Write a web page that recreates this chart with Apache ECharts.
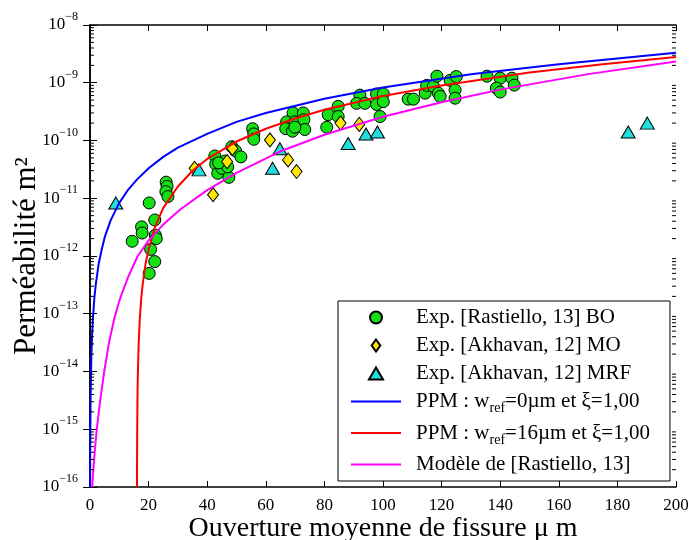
<!DOCTYPE html>
<html><head><meta charset="utf-8">
<script src="https://cdn.jsdelivr.net/npm/echarts@6/dist/echarts.min.js"></script>
<style>html,body{margin:0;padding:0;background:#fff}#c{width:690px;height:540px}</style>
</head><body><div id="c"></div>
<script>
// ---- data ----
const xTicks = [0, 20, 40, 60, 80, 100, 120, 140, 160, 180, 200];
const yDecades = [-16, -15, -14, -13, -12, -11, -10, -9, -8];

const boX = [14.4,17.6,17.8,20.2,22.1,22.3,22.6,20.7,22.1,20.2,26.0,26.3,25.9,26.6,
  42.6,42.9,43.6,45.0,46.0,47.4,48.4,49.7,51.5,47.0,43.9,
  55.5,55.9,55.9,
  69.3,72.8,67.1,69.9,73.0,66.8,69.1,73.3,69.9,
  81.3,84.7,84.7,80.8,
  92.1,91.0,93.8,97.8,100.1,97.8,100.1,99.0,
  108.6,110.4,114.4,114.9,117.2,118.4,118.9,119.5,
  122.9,125.0,124.6,124.6,
  135.5,140.0,144.0,138.7,140.0,144.8];
const boY = [1.8e-12,3.2e-12,2.5e-12,8.3e-12,4.2e-12,2.3e-12,2.0e-12,1.3e-12,8e-13,5e-13,1.9e-11,1.6e-11,1.3e-11,1.07e-11,
  5.4e-11,3.9e-11,2.7e-11,3.3e-11,4.4e-11,2.3e-11,7.8e-11,6.6e-11,5.2e-11,3.5e-11,4.1e-11,
  1.6e-10,1.3e-10,1.05e-10,
  3.0e-10,3.0e-10,2.1e-10,2.1e-10,2.3e-10,1.6e-10,1.45e-10,1.55e-10,1.7e-10,
  2.8e-10,3.9e-10,2.6e-10,1.7e-10,
  6.1e-10,4.4e-10,4.4e-10,6.4e-10,6.4e-10,4.2e-10,4.7e-10,2.6e-10,
  5.2e-10,5.2e-10,6.6e-10,9e-10,8.7e-10,1.3e-9,6.6e-10,5.8e-10,
  1.1e-9,1.28e-9,7.5e-10,5.4e-10,
  1.3e-9,1.2e-9,1.2e-9,8.1e-10,6.9e-10,9.1e-10];

const moX = [35.7,42.0,46.8,48.6,61.4,67.6,70.5,85.5,91.9];
const moY = [3.3e-11,1.15e-11,4.3e-11,7.3e-11,1.02e-10,4.6e-11,2.9e-11,2.0e-10,1.9e-10];

const mrfX = [8.8,37.2,62.3,64.8,88.1,94.2,98.1,183.7,190.2];
const mrfY = [8.3e-12,3.1e-11,3.3e-11,7.2e-11,8.9e-11,1.3e-10,1.4e-10,1.4e-10,2.0e-10];

const blueX = [0.035,0.05,0.1,0.2,0.35,0.5,0.75,1,1.5,2,3,4,5,7,10,13,16,20,25,30,40,50,60,80,100,130,160,200];
const blueY = [1.0e-16,2.1e-16,8.3e-16,3.3e-15,1.0e-14,2.1e-14,4.7e-14,8.3e-14,1.9e-13,3.3e-13,7.5e-13,1.3e-12,2.1e-12,4.1e-12,8.3e-12,1.4e-11,2.1e-11,3.3e-11,5.2e-11,7.5e-11,1.3e-10,2.1e-10,3.0e-10,5.3e-10,8.3e-10,1.4e-9,2.1e-9,3.3e-9];

const redX = [16.035,16.05,16.1,16.2,16.3,16.6,17,17.5,18,19,20,22,25,30,35,40,50,60,70,80,100,120,150,175,200];
const redY = [1.0e-16,2.1e-16,8.3e-16,3.3e-15,7.5e-15,3.0e-14,8.3e-14,1.9e-13,3.3e-13,7.5e-13,1.3e-12,3.0e-12,6.8e-12,1.6e-11,3.0e-11,4.8e-11,9.6e-11,1.6e-10,2.4e-10,3.4e-10,5.9e-10,9.0e-10,1.5e-9,2.1e-9,2.8e-9];

const magX = [0.75,1.1,1.5,2.3,3.5,4.85,6.5,8.3,10.2,13,16.2,20,25,31,40,50,65,80,100,120,140,170,200];
const magY = [1.0e-16,1.9e-16,3.5e-16,1.0e-15,3.2e-15,1.0e-14,3.2e-14,8.3e-14,1.8e-13,4.3e-13,9.8e-13,1.86e-12,3.5e-12,6.5e-12,1.38e-11,2.75e-11,6.5e-11,1.26e-10,2.57e-10,4.6e-10,7.6e-10,1.41e-9,2.34e-9];

const names = [
  'Exp. [Rastiello, 13] BO',
  'Exp. [Akhavan, 12] MO',
  'Exp. [Akhavan, 12] MRF',
  'PPM : wref=0µm et ξ=1,00',
  'PPM : wref=16µm et ξ=1,00',
  'Modèle de [Rastiello, 13]'
];

// ---- build ----
const zip = (xs, ys) => xs.map((x, i) => [x, ys[i]]);
const FONT = 'Liberation Serif';
const minorVals = [];
for (let e = yDecades[0]; e < yDecades[yDecades.length - 1]; e++) {
  for (let m = 2; m <= 9; m++) minorVals.push(m * Math.pow(10, e));
}
function yLabel(v) {
  const e = Math.round(Math.log10(v));
  const s = String(e).replace('-', '−');
  return '{a|10}{b|' + s + '}';
}
function legendFmt(n) {
  if (n.indexOf('wref') >= 0) {
    const parts = n.split('wref');
    return '{t|' + parts[0] + 'w}{s|ref}{t|' + parts[1] + '}';
  }
  return '{t|' + n + '}';
}
const DIAMOND_ICON = 'path://M5,0L10,7L5,14L0,7Z';
const TRIANGLE_ICON = 'path://M7,0L14,12L0,12Z';

const chart = echarts.init(document.getElementById('c'), null, {renderer: 'canvas'});
const axisLineStyle = {color: '#000', width: 1.5};
const curve = (name, xs, ys, color) => ({
  name: name, type: 'line', data: zip(xs, ys), symbol: 'none', showSymbol: false,
  lineStyle: {color: color, width: 2}, itemStyle: {color: color}, z: 3
});
chart.setOption({
  animation: false,
  backgroundColor: '#fff',
  grid: {left: 90, right: 14, top: 25, bottom: 53, containLabel: false, outerBoundsMode: 'none'},
  legend: {
    orient: 'vertical', left: 338, top: 301,
    padding: [6, 20, 6, 12],
    itemWidth: 50, itemHeight: 12, itemGap: 7,
    backgroundColor: '#fff', borderColor: '#000', borderWidth: 1,
    data: [
      {name: names[0], icon: 'circle'},
      {name: names[1], icon: DIAMOND_ICON},
      {name: names[2], icon: TRIANGLE_ICON},
      {name: names[3], itemStyle: {opacity: 0}},
      {name: names[4], itemStyle: {opacity: 0}},
      {name: names[5], itemStyle: {opacity: 0}}
    ],
    formatter: legendFmt,
    textStyle: {
      color: '#000', fontFamily: FONT, fontSize: 21, padding: [0, 0, 0, 10],
      rich: {
        t: {fontFamily: FONT, fontSize: 21, color: '#000'},
        s: {fontFamily: FONT, fontSize: 14, color: '#000', padding: [14, 0, 0, 0]}
      }
    }
  },
  xAxis: [{
    type: 'value', min: xTicks[0], max: xTicks[xTicks.length - 1], interval: 20,
    position: 'bottom',
    name: 'Ouverture moyenne de fissure μ m', nameLocation: 'middle', nameGap: 28,
    nameMoveOverlap: false,
    nameTextStyle: {fontFamily: FONT, fontSize: 28, color: '#000', verticalAlign: 'top'},
    axisLine: {show: true, lineStyle: axisLineStyle},
    axisTick: {show: true, inside: true, length: 6, lineStyle: {color: '#000', width: 1}},
    axisLabel: {fontFamily: FONT, fontSize: 17, color: '#000', margin: 10},
    splitLine: {show: false}
  }, {
    type: 'value', min: xTicks[0], max: xTicks[xTicks.length - 1], interval: 20,
    position: 'top',
    axisLine: {show: true, lineStyle: axisLineStyle},
    axisTick: {show: true, inside: true, length: 6, lineStyle: {color: '#000', width: 1}},
    axisLabel: {show: false}, splitLine: {show: false}
  }],
  yAxis: [{
    type: 'log', logBase: 10, min: 1e-16, max: 1e-8, splitNumber: 8,
    position: 'left',
    name: 'Perméabilité m²', nameLocation: 'middle', nameGap: 48,
    nameMoveOverlap: false,
    nameTextStyle: {fontFamily: FONT, fontSize: 31, color: '#000'},
    axisLine: {show: true, lineStyle: axisLineStyle},
    axisTick: {show: true, inside: true, length: 7, lineStyle: {color: '#000', width: 1}},
    minorTick: {show: false},
    axisLabel: {
      formatter: yLabel, margin: 12,
      rich: {
        a: {fontFamily: FONT, fontSize: 17, color: '#000'},
        b: {fontFamily: FONT, fontSize: 12, color: '#000', padding: [0, 0, 16, 0]}
      }
    },
    splitLine: {show: false}
  }, {
    type: 'log', logBase: 10, min: 1e-16, max: 1e-8, splitNumber: 8,
    position: 'right',
    axisLine: {show: true, lineStyle: axisLineStyle},
    axisTick: {show: true, inside: true, length: 7, lineStyle: {color: '#000', width: 1}},
    axisLabel: {show: false}, splitLine: {show: false}
  }],
  series: [
    {
      name: names[0], type: 'scatter', data: zip(boX, boY), symbol: 'circle', symbolSize: 12,
      itemStyle: {color: '#14e014', borderColor: '#000', borderWidth: 1, opacity: 1}, z: 2
    },
    {
      name: names[1], type: 'scatter', data: zip(moX, moY), symbol: 'diamond', symbolSize: [11, 14],
      itemStyle: {color: '#ffe800', borderColor: '#000', borderWidth: 1, opacity: 1}, z: 2
    },
    {
      name: names[2], type: 'scatter', data: zip(mrfX, mrfY), symbol: 'triangle', symbolSize: [14, 12],
      itemStyle: {color: '#22dde0', borderColor: '#000', borderWidth: 1, opacity: 1}, z: 2
    },
    curve(names[3], blueX, blueY, '#0000ff'),
    curve(names[4], redX, redY, '#ff0000'),
    curve(names[5], magX, magY, '#ff00ff'),
    {
      name: 'minorTicks', type: 'custom', coordinateSystem: 'cartesian2d', silent: true, z: 5,
      data: minorVals.map(v => [xTicks[0], v]),
      renderItem: function (params, api) {
        const v = api.value(1);
        const a = api.coord([xTicks[0], v]);
        const b = api.coord([xTicks[xTicks.length - 1], v]);
        return {type: 'group', children: [
          {type: 'line', shape: {x1: a[0], y1: a[1], x2: a[0] + 4, y2: a[1]}, style: {stroke: '#000', lineWidth: 1}},
          {type: 'line', shape: {x1: b[0] - 4, y1: b[1], x2: b[0], y2: b[1]}, style: {stroke: '#000', lineWidth: 1}}
        ]};
      }
    }
  ]
});
</script>
</body></html>
